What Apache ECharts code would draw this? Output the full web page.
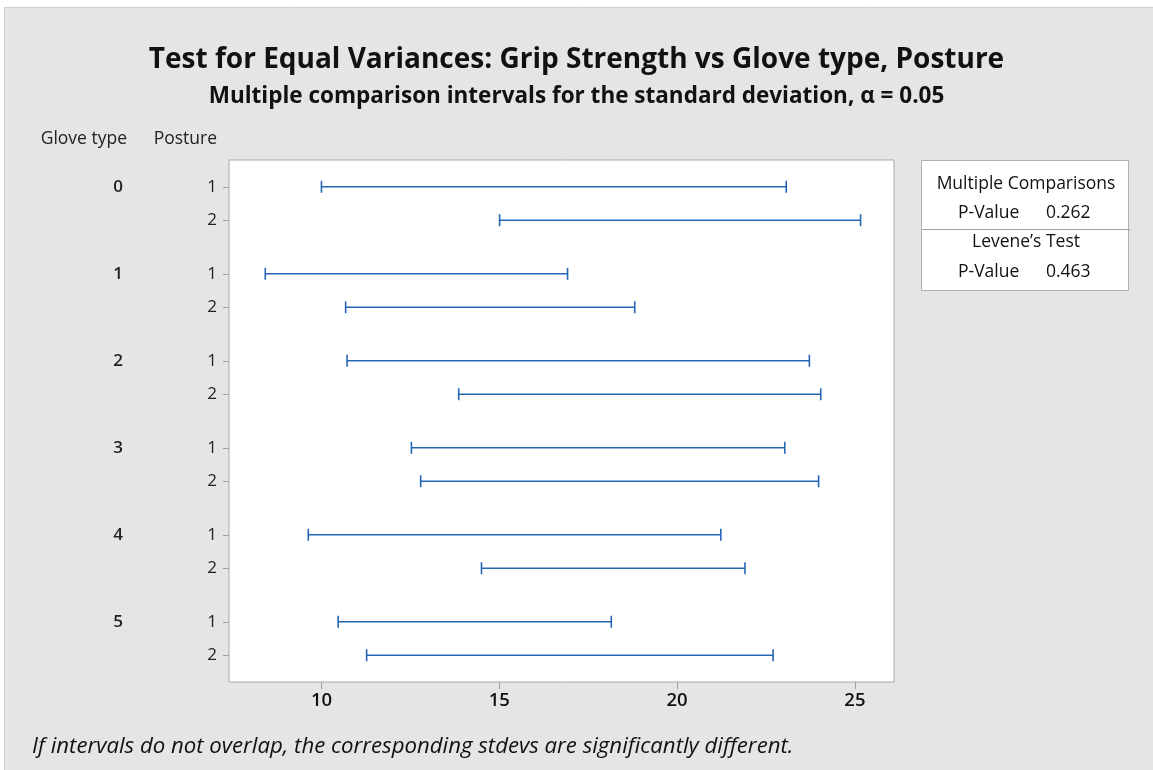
<!DOCTYPE html>
<html>
<head>
<meta charset="utf-8">
<script src="https://cdn.jsdelivr.net/npm/echarts@6/dist/echarts.min.js"></script>
<style>html,body{margin:0;padding:0;background:#fff}#c{width:1153px;height:770px}</style>
</head>
<body>
<div id="c"></div>
<script>
// ---- data ----
var gloveTypes = ['0', '1', '2', '3', '4', '5'];
var postures = ['1', '2'];
var lowerBounds = [10.00, 15.01, 8.42, 10.68, 10.72, 13.86, 12.53, 12.79, 9.63, 14.50, 10.47, 11.27];
var upperBounds = [23.07, 25.16, 16.92, 18.81, 23.72, 24.04, 23.03, 23.98, 21.23, 21.91, 18.15, 22.70];
var xTickValues = [10, 15, 20, 25];
var titleText = 'Test for Equal Variances: Grip Strength vs Glove type, Posture';
var subtitleText = 'Multiple comparison intervals for the standard deviation, \u03b1 = 0.05';
var footnoteText = 'If intervals do not overlap, the corresponding stdevs are significantly different.';
var mcLabel = 'Multiple Comparisons';
var mcPValue = '0.262';
var leveneLabel = 'Levene\u2019s Test';
var levenePValue = '0.463';

// ---- layout helpers ----
var GROUP_STEP = 2.6;
var rows = [], positions = [], postureOfRow = [], groupPos = [];
gloveTypes.forEach(function (g, gi) {
  postures.forEach(function (p, pi) {
    var idx = gi * postures.length + pi;
    var pos = gi * GROUP_STEP + pi;
    positions.push(pos);
    postureOfRow.push(p);
    rows.push([lowerBounds[idx], upperBounds[idx], pos]);
    if (pi === 0) groupPos.push(pos);
  });
});
function labelAt(list, vals, v) {
  for (var i = 0; i < list.length; i++) if (Math.abs(list[i] - v) < 1e-6) return vals[i];
  return '';
}

var FONT = 'Open Sans';
var BLUE = '#2566b4';
var chart = echarts.init(document.getElementById('c'), null, {renderer: 'canvas'});
chart.setOption({
  animation: false,
  backgroundColor: '#e5e5e5',
  textStyle: {fontFamily: FONT},
  title: [
    {text: titleText, left: 'center', top: 41, textStyle: {fontFamily: FONT, fontSize: 28, fontWeight: 'bold', color: '#111'}},
    {text: subtitleText, left: 'center', top: 80, textStyle: {fontFamily: FONT, fontSize: 22.5, fontWeight: 'bold', color: '#111'}}
  ],
  grid: {left: 229, right: 259, top: 160, bottom: 88, show: true, backgroundColor: '#fff', borderColor: '#a9a9a9', borderWidth: 1},
  xAxis: {
    type: 'value', min: 7.4, max: 26.1,
    axisLine: {show: false, onZero: false}, splitLine: {show: false},
    axisTick: {show: true, customValues: xTickValues, length: 7, lineStyle: {color: '#a0a0a0'}},
    axisLabel: {customValues: xTickValues, fontSize: 18.5, fontWeight: 600, color: '#111', margin: 9}
  },
  yAxis: [
    {
      type: 'value', inverse: true, min: -0.8, max: 14.8,
      axisLine: {show: false, onZero: false}, splitLine: {show: false},
      axisTick: {show: true, customValues: positions, length: 6, lineStyle: {color: '#a0a0a0'}},
      axisLabel: {customValues: positions, fontSize: 17, color: '#222', margin: 12,
        formatter: function (v) { return labelAt(positions, postureOfRow, v); }}
    },
    {
      type: 'value', inverse: true, min: -0.8, max: 14.8, position: 'left', offset: 98,
      axisLine: {show: false, onZero: false}, splitLine: {show: false}, axisTick: {show: false},
      axisLabel: {customValues: groupPos, fontSize: 17, fontWeight: 600, color: '#222', margin: 8,
        formatter: function (v) { return labelAt(groupPos, gloveTypes, v); }}
    }
  ],
  series: [{
    type: 'custom',
    data: rows,
    encode: {x: [0, 1], y: 2},
    renderItem: function (params, api) {
      var y = api.value(2);
      var a = api.coord([api.value(0), y]);
      var b = api.coord([api.value(1), y]);
      var h = 6;
      var st = {stroke: BLUE, lineWidth: 1.6};
      return {type: 'group', children: [
        {type: 'line', shape: {x1: a[0], y1: a[1], x2: b[0], y2: b[1]}, style: st},
        {type: 'line', shape: {x1: a[0], y1: a[1] - h, x2: a[0], y2: a[1] + h}, style: st},
        {type: 'line', shape: {x1: b[0], y1: b[1] - h, x2: b[0], y2: b[1] + h}, style: st}
      ]};
    }
  }],
  graphic: [
    {type: 'rect', shape: {x: 0, y: 0, width: 1153, height: 7}, style: {fill: '#fff'}, silent: true},
    {type: 'rect', shape: {x: 0, y: 0, width: 4, height: 770}, style: {fill: '#fff'}, silent: true},
    {type: 'line', shape: {x1: 4, y1: 7.5, x2: 1153, y2: 7.5}, style: {stroke: '#cfcfcf', lineWidth: 1}},
    {type: 'line', shape: {x1: 4.5, y1: 7, x2: 4.5, y2: 770}, style: {stroke: '#cfcfcf', lineWidth: 1}},
    {type: 'text', style: {text: 'Glove type', x: 127, y: 139, align: 'right', verticalAlign: 'middle', font: '17.5px "Open Sans"', fill: '#222'}},
    {type: 'text', style: {text: 'Posture', x: 217, y: 139, align: 'right', verticalAlign: 'middle', font: '17.5px "Open Sans"', fill: '#222'}},
    {type: 'rect', shape: {x: 921.5, y: 160.5, width: 207, height: 130}, style: {fill: '#fff', stroke: '#b0b0b0', lineWidth: 1}},
    {type: 'line', shape: {x1: 921, y1: 229.5, x2: 1130, y2: 229.5}, style: {stroke: '#a0a0a0', lineWidth: 1}},
    {type: 'text', style: {text: mcLabel, x: 1026, y: 184, align: 'center', verticalAlign: 'middle', font: '17.5px "Open Sans"', fill: '#111'}},
    {type: 'text', style: {text: 'P-Value', x: 958, y: 213, align: 'left', verticalAlign: 'middle', font: '17.5px "Open Sans"', fill: '#111'}},
    {type: 'text', style: {text: mcPValue, x: 1046, y: 213, align: 'left', verticalAlign: 'middle', font: '17.5px "Open Sans"', fill: '#111'}},
    {type: 'text', style: {text: leveneLabel, x: 1026, y: 242, align: 'center', verticalAlign: 'middle', font: '17.5px "Open Sans"', fill: '#111'}},
    {type: 'text', style: {text: 'P-Value', x: 958, y: 272, align: 'left', verticalAlign: 'middle', font: '17.5px "Open Sans"', fill: '#111'}},
    {type: 'text', style: {text: levenePValue, x: 1046, y: 272, align: 'left', verticalAlign: 'middle', font: '17.5px "Open Sans"', fill: '#111'}},
    {type: 'text', style: {text: footnoteText, x: 32, y: 747, align: 'left', verticalAlign: 'middle', font: 'italic 22.2px "Open Sans"', fill: '#111'}}
  ]
});
</script>
</body>
</html>
